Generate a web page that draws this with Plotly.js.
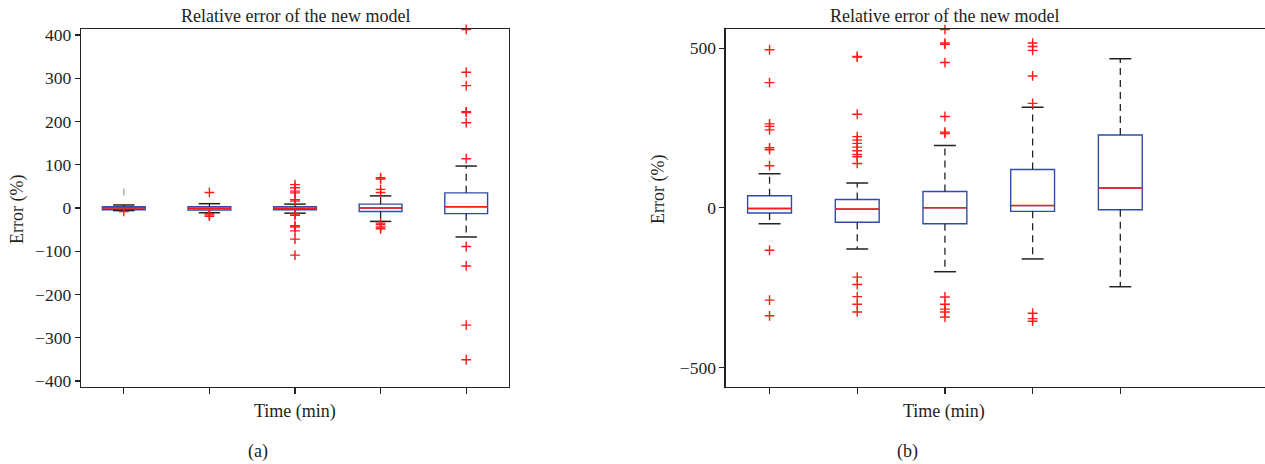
<!DOCTYPE html>
<html>
<head>
<meta charset="utf-8">
<script src="https://cdn.plot.ly/plotly-3.0.1.min.js"></script>
<style>
html,body{margin:0;padding:0;background:#fff;overflow:hidden;}
#chart{width:1265px;height:464px;}
</style>
</head>
<body>
<div id="chart"></div>
<script>
// ---- Data: panel (a) ----
const positions = [1, 2, 3, 4, 5];
const qa1  = [-4, -5, -4, -8, -13];
const meda = [0, -1, -1, 0, 3];
const qa3  = [3, 3, 3, 9, 35];
const lowa = [-6, -11, -12, -31, -67];
const upa  = [7, 10, 9, 28, 97];
const oa1 = [-8];
const oa2 = [36, -13, -16, -19];
const oa3 = [54, 47, 39, 35, 19, 16, -14, -17, -41, -44, -53, -72, -109];
const oa4 = [70, 67, 43, 36, -35, -38, -44, -48];
const oa5 = [413, 314, 283, 223, 221, 197, 114, -89, -134, -271, -351];
// faint (grey) outlier mark above box 1 of panel (a)
const faintA = [37];

// ---- Data: panel (b) ----
const qb1  = [-16, -45, -50, -11, -6];
const medb = [-2, -4, 0, 7, 62];
const qb3  = [38, 26, 51, 120, 228];
const lowb = [-50, -129, -200, -160, -247];
const upb  = [107, 78, 195, 315, 467];
const ob1 = [495, 392, 263, 255, 244, 188, 182, 132, -133, -289, -338];
const ob2 = [474, 472, 293, 223, 212, 202, 190, 179, 167, 160, 139, -217, -240, -278, -302, -326];
const ob3 = [558, 516, 512, 455, 286, 237, 233, -279, -302, -317, -326, -342];
const ob4 = [516, 505, 493, 413, 327, -330, -347, -355];
const ob5 = [];

// ---- Text ----
const titleText = "Relative error of the new model";
const xTitle = "Time (min)";
const yTitle = "Error (%)";
const yTicksA = [-400, -300, -200, -100, 0, 100, 200, 300, 400];
const yTicksB = [-500, 0, 500];

const BLUE = "#2e4ea6", RED = "#ff1a1a", BLACK = "#222222";
const FONT = "Liberation Serif, Times New Roman, serif";
const TXT = "#231f20";

function panelTraces(q1, med, q3, low, up, outs, xa, ya) {
  const tr = [];
  tr.push({type: "box", x: positions, q1: q1, median: med, q3: q3,
    lowerfence: q1, upperfence: q3, width: 0.5,
    line: {color: BLUE, width: 1.4}, fillcolor: "rgba(0,0,0,0)",
    boxpoints: false, hoverinfo: "skip", showlegend: false, xaxis: xa, yaxis: ya});
  const wx = [], wy = [];
  const cx = [], cy = [];
  const mx = [], my = [];
  positions.forEach((p, i) => {
    wx.push(p, p, null, p, p, null);
    wy.push(q3[i], up[i], null, q1[i], low[i], null);
    cx.push(p - 0.125, p + 0.125, null, p - 0.125, p + 0.125, null);
    cy.push(up[i], up[i], null, low[i], low[i], null);
    mx.push(p - 0.25, p + 0.25, null);
    my.push(med[i], med[i], null);
  });
  tr.push({type: "scatter", mode: "lines", x: wx, y: wy, line: {color: BLACK, width: 1.3, dash: "7px,5px"},
    hoverinfo: "skip", showlegend: false, xaxis: xa, yaxis: ya});
  tr.push({type: "scatter", mode: "lines", x: cx, y: cy, line: {color: BLACK, width: 1.5},
    hoverinfo: "skip", showlegend: false, xaxis: xa, yaxis: ya});
  tr.push({type: "scatter", mode: "lines", x: mx, y: my, line: {color: RED, width: 1.5},
    hoverinfo: "skip", showlegend: false, xaxis: xa, yaxis: ya});
  const ox = [], oy = [];
  outs.forEach((arr, i) => arr.forEach(v => { ox.push(positions[i]); oy.push(v); }));
  tr.push({type: "scatter", mode: "markers", x: ox, y: oy, cliponaxis: false,
    marker: {symbol: "cross-thin", size: 7, line: {color: RED, width: 1.4}, color: RED},
    hoverinfo: "skip", showlegend: false, xaxis: xa, yaxis: ya});
  return tr;
}

const data = [].concat(
  panelTraces(qa1, meda, qa3, lowa, upa, [oa1, oa2, oa3, oa4, oa5], "x", "y"),
  panelTraces(qb1, medb, qb3, lowb, upb, [ob1, ob2, ob3, ob4, ob5], "x2", "y2"),
  [{type: "scatter", mode: "markers", x: faintA.map(() => positions[0]), y: faintA,
    marker: {symbol: "line-ns", size: 5, line: {color: "#999999", width: 1.2}},
    hoverinfo: "skip", showlegend: false, xaxis: "x", yaxis: "y"}]
);

const W = 1265, H = 464;
const px = v => v / W, py = v => 1 - v / H;

const axCommon = {showline: true, linecolor: BLACK, linewidth: 1.3, ticks: "outside",
  tickcolor: BLACK, tickwidth: 1.2, showgrid: false, zeroline: false,
  tickfont: {family: FONT, size: 17.5, color: TXT}};

const layout = {
  width: W, height: H,
  margin: {l: 0, r: 0, t: 0, b: 0},
  paper_bgcolor: "#fff", plot_bgcolor: "#fff",
  showlegend: false,
  xaxis: Object.assign({}, axCommon, {domain: [px(81), px(509)], range: [0.5, 5.5],
    tickvals: positions, showticklabels: false, ticklen: 6, mirror: true, anchor: "y"}),
  yaxis: Object.assign({}, axCommon, {domain: [1 - 387/H, 1 - 29/H], range: [-414, 414],
    tickvals: yTicksA, ticklen: 5, mirror: true, anchor: "x"}),
  xaxis2: Object.assign({}, axCommon, {domain: [px(725.7), 1], range: [0.5, 6.65],
    tickvals: positions, showticklabels: false, ticklen: 6, mirror: true, anchor: "y2"}),
  yaxis2: Object.assign({}, axCommon, {domain: [1 - 387/H, 1 - 29/H], range: [-561, 560],
    tickvals: yTicksB, ticklen: 5, mirror: false, anchor: "x2"}),
  annotations: [
    {text: titleText, x: px(295), y: py(16)},
    {text: titleText, x: px(944), y: py(16)},
    {text: xTitle, x: px(295), y: py(411)},
    {text: xTitle, x: px(944), y: py(411)},
    {text: "(a)", x: px(258), y: py(451)},
    {text: "(b)", x: px(907), y: py(451)},
    {text: yTitle, x: px(17), y: py(210), textangle: -90},
    {text: yTitle, x: px(658), y: py(190), textangle: -90}
  ].map(a => Object.assign({xref: "paper", yref: "paper", showarrow: false,
    xanchor: "center", yanchor: "middle", font: {family: FONT, size: 18, color: TXT}}, a))
};

Plotly.newPlot("chart", data, layout, {staticPlot: true, displayModeBar: false});
</script>
</body>
</html>
